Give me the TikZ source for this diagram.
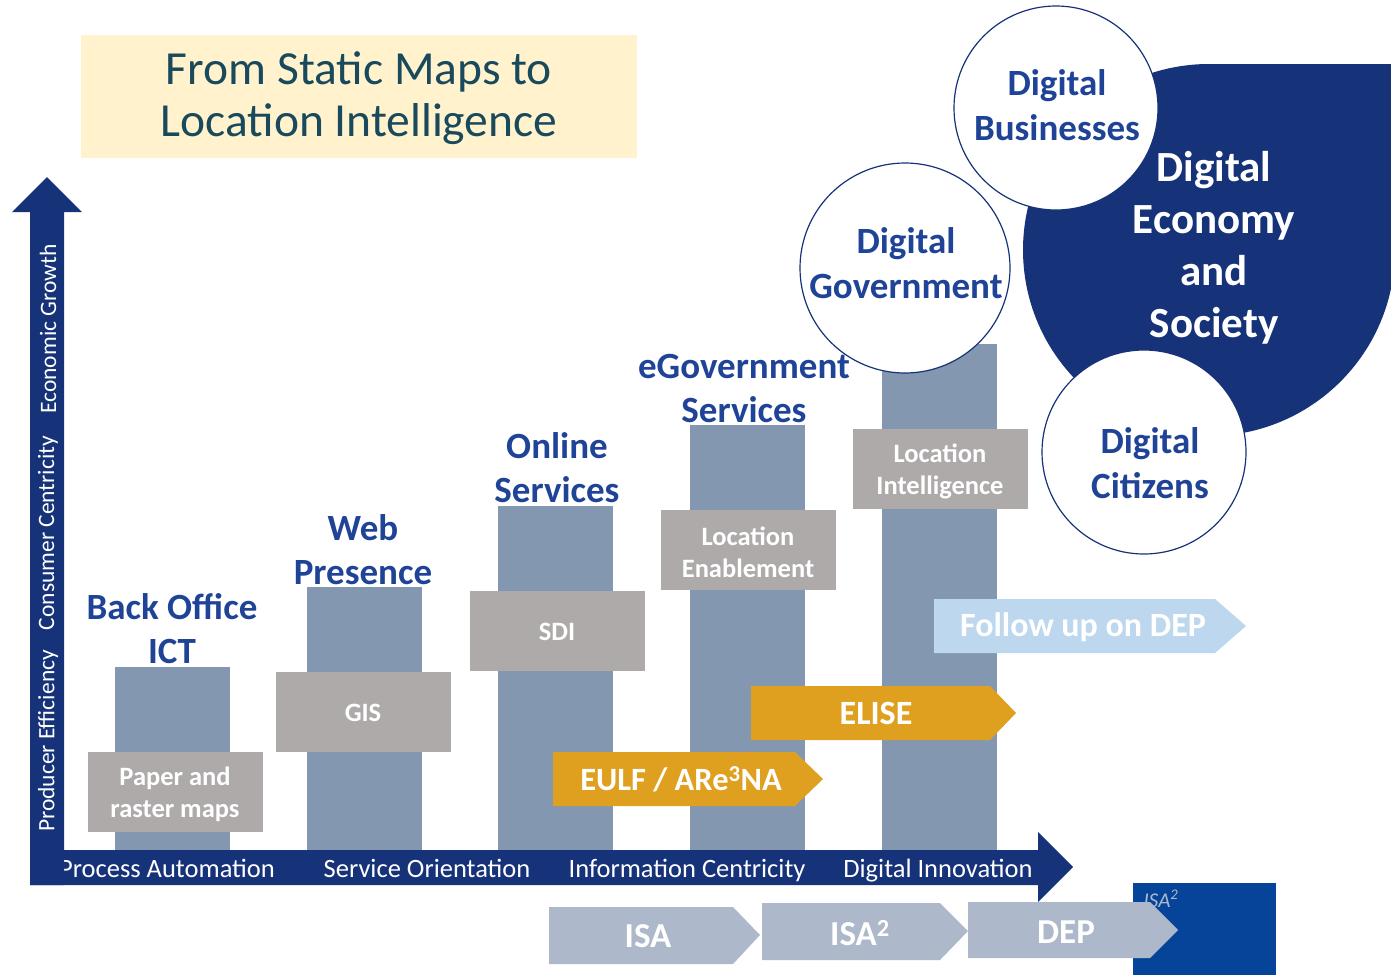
\documentclass[tikz,border=0pt]{standalone}
\usepackage{fontspec}
\setmainfont{Carlito}
\definecolor{navy}{HTML}{163278}
\definecolor{labelblue}{HTML}{1F4397}
\definecolor{barblue}{HTML}{8497B0}
\definecolor{boxgrey}{HTML}{AEAAAA}
\definecolor{eulforange}{HTML}{E0A01F}
\definecolor{paleblue}{HTML}{BDD7EE}
\definecolor{isagrey}{HTML}{ADB9CA}
\definecolor{isablue}{HTML}{06449A}
\definecolor{titlebg}{HTML}{FFF2CC}
\definecolor{titleteal}{HTML}{18495C}
\tikzset{
  phase/.style={inner sep=0pt, align=center, text=labelblue, font=\fontsize{37}{44}\selectfont\bfseries},
  tool/.style={inner sep=0pt, align=center, text=white, font=\fontsize{26.5}{32}\selectfont\bfseries},
  axislabel/.style={inner sep=0pt, text=white, font=\fontsize{26.5}{28}\selectfont},
  chevlabel/.style={inner sep=0pt, text=white, font=\fontsize{34}{36}\selectfont\bfseries},
  bubble/.style={draw=navy, line width=1.2pt, fill=white},
  bubblelabel/.style={inner sep=0pt, align=center, text=labelblue, font=\fontsize{37}{45}\selectfont\bfseries}
}
\begin{document}
\begin{tikzpicture}[x=1pt,y=-1pt]
    \useasboundingbox (0,0) rectangle (1391,975);
    \clip (0,0) rectangle (1391,975);
    % title
    \fill[titlebg] (81,35) rectangle (637,158);
    \node[inner sep=0pt, align=center, text=titleteal, font=\fontsize{47.5}{52}\selectfont] (title) at (359,98) {From Static Maps to\\Location Intelligence};
    % bars
    \fill[barblue] (115,667) rectangle (230,850);
    \fill[barblue] (307,587) rectangle (422,850);
    \fill[barblue] (498,506) rectangle (613,850);
    \fill[barblue] (690,425) rectangle (805,850);
    \fill[barblue] (882,344) rectangle (997,850);
    % grey boxes
    \fill[boxgrey] (88,752) rectangle (263,832); \node[tool] (paper) at (175,794) {Paper and\\raster maps};
    \fill[boxgrey] (276,672) rectangle (451,752); \node[tool] (gis) at (363,713) {GIS};
    \fill[boxgrey] (470,591) rectangle (645,671); \node[tool] (sdi) at (557,632) {SDI};
    \fill[boxgrey] (661,510) rectangle (836,590); \node[tool] (enable) at (748,552) {Location\\Enablement};
    \fill[boxgrey] (853,429) rectangle (1028,509); \node[tool] (intel) at (940,471) {Location\\Intelligence};
    % digital economy
    \fill[navy] (1209,250) circle (186);
    \fill[navy] (1209,64) rectangle (1400,250);
    \node[inner sep=0pt, align=center, text=white, font=\fontsize{43}{52}\selectfont\bfseries] (economy) at (1214,248) {Digital\\Economy\\and\\Society};
    \draw[bubble] (905,268) circle (105); \node[bubblelabel] (government) at (906,263) {Digital\\Government};
    \draw[bubble] (1056,108) circle (102); \node[bubblelabel] (businesses) at (1057,105) {Digital\\Businesses};
    \draw[bubble] (1144,452) circle (102); \node[bubblelabel] (citizens) at (1150,463) {Digital\\Citizens};
    % phases
    \node[phase] (backoffice) at (172,629) {Back Office\\ICT};
    \node[phase] (web) at (363,550) {Web\\Presence};
    \node[phase] (online) at (557,468) {Online\\Services};
    \node[phase] (egov) at (744,388) {eGovernment\\Services};
    % chevrons
    \fill[paleblue] (934,599) -- (1215,599) -- (1246,626) -- (1215,653) -- (934,653) -- cycle; \node[chevlabel] (followup) at (1083,627) {Follow up on DEP};
    \fill[eulforange] (751,686) -- (990,686) -- (1016,713) -- (990,740) -- (751,740) -- cycle; \node[chevlabel] (elise) at (876,713) {ELISE};
    \fill[eulforange] (553,752) -- (795,752) -- (823,779) -- (795,806) -- (553,806) -- cycle; \node[chevlabel, font=\fontsize{32.5}{36}\selectfont\bfseries] (eulf) at (681,779) {EULF / ARe\textsuperscript{3}NA};
    % horizontal axis
    \fill[navy] (30,850) -- (1038,850) -- (1038,832) -- (1073,867) -- (1038,902) -- (1038,885) -- (30,885) -- cycle;
    \node[axislabel, anchor=base] (process) at (167,877) {Process Automation};
    \node[axislabel, anchor=base] (service) at (427,877) {Service Orientation};
    \node[axislabel, anchor=base] (information) at (687,877) {Information Centricity};
    \node[axislabel, anchor=base] (innovation) at (938,877) {Digital Innovation};
    % vertical axis
    \fill[navy] (30,885) -- (30,212) -- (12,212) -- (47,177) -- (82,212) -- (64,212) -- (64,885) -- cycle;
    \node[axislabel, rotate=90, font=\fontsize{23.5}{24}\selectfont] (producer) at (48,741) {Producer Efficiency};
    \node[axislabel, rotate=90, font=\fontsize{23.5}{24}\selectfont] (consumer) at (48,533) {Consumer Centricity};
    \node[axislabel, rotate=90, font=\fontsize{23.5}{24}\selectfont] (economic) at (48,329) {Economic Growth};
    % programmes
    \fill[isablue] (1133,883) rectangle (1276,975);
    \node[inner sep=0pt, text=isagrey, font=\fontsize{21}{24}\selectfont\itshape] (logo) at (1161,899) {ISA\textsuperscript{2}};
    \fill[isagrey] (549,907) -- (733,907) -- (760,935) -- (733,964) -- (549,964) -- cycle; \node[chevlabel, font=\fontsize{35}{36}\selectfont\bfseries] (isa) at (648,936) {ISA};
    \fill[isagrey] (762,903) -- (940,903) -- (968,931) -- (940,960) -- (762,960) -- cycle; \node[chevlabel, font=\fontsize{35}{36}\selectfont\bfseries] (isatwo) at (860,933) {ISA\textsuperscript{2}};
    \fill[isagrey] (968,902) -- (1150,902) -- (1178,930) -- (1150,958) -- (968,958) -- cycle; \node[chevlabel, font=\fontsize{35}{36}\selectfont\bfseries] (dep) at (1066,932) {DEP};
\end{tikzpicture}
\end{document}
